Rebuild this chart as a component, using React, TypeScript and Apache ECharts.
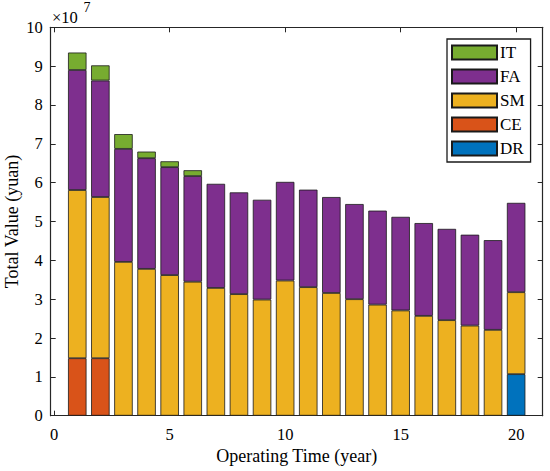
import React, { useEffect, useRef } from "react";
import * as echarts from "echarts";

const years = [1, 2, 3, 4, 5, 6, 7, 8, 9, 10, 11, 12, 13, 14, 15, 16, 17, 18, 19, 20];
const seriesNames = ["DR", "CE", "SM", "FA", "IT"];
const legendOrder = ["IT", "FA", "SM", "CE", "DR"];
const colors = ["#0072BD", "#D95319", "#EDB120", "#7E2F8E", "#77AC30"];
const xTicks = [0, 5, 10, 15, 20];

// values in units of 1e7 yuan (segment heights); 0 = segment absent
const DR = [0, 0, 0, 0, 0, 0, 0, 0, 0, 0, 0, 0, 0, 0, 0, 0, 0, 0, 0, 1.07];
const CE = [1.48, 1.48, 0, 0, 0, 0, 0, 0, 0, 0, 0, 0, 0, 0, 0, 0, 0, 0, 0, 0];
const SM = [4.33, 4.15, 3.96, 3.78, 3.62, 3.45, 3.29, 3.13, 2.99, 3.48, 3.31, 3.16, 3.0, 2.86, 2.71, 2.57, 2.46, 2.32, 2.21, 2.11];
const FA = [3.09, 3.0, 2.91, 2.85, 2.78, 2.72, 2.68, 2.62, 2.57, 2.54, 2.51, 2.47, 2.45, 2.42, 2.41, 2.39, 2.35, 2.34, 2.31, 2.3];
const IT = [0.45, 0.39, 0.38, 0.17, 0.15, 0.15, 0, 0, 0, 0, 0, 0, 0, 0, 0, 0, 0, 0, 0, 0];

const seriesValues = [DR, CE, SM, FA, IT];

const FONT = '"Liberation Serif", "Times New Roman", serif';
const AXIS_COLOR = "#262626";

// frame geometry (value axis -0.15 .. 21.15)
const X_MIN = -0.15;
const X_MAX = 21.15;
const FRAME_LEFT = 50.7;
const FRAME_RIGHT_PX = 542.7;
const TOP = 27.3;
const BOTTOM = 55.3;

export default function App() {
  const ref = useRef<HTMLDivElement>(null);

  useEffect(() => {
    const chart = echarts.init(ref.current!, null, { renderer: "svg" });

    const pxPerUnit = (FRAME_RIGHT_PX - FRAME_LEFT) / (X_MAX - X_MIN);
    const toPx = (v: number) => FRAME_LEFT + (v - X_MIN) * pxPerUnit;
    const barGridLeft = toPx(years[0] - 0.5);
    const barGridRight = toPx(years[years.length - 1] + 0.5);

    const series = seriesNames.map((name, i) => ({
      name,
      type: "bar",
      stack: "total",
      xAxisIndex: 0,
      yAxisIndex: 0,
      barWidth: "80%",
      itemStyle: { color: colors[i], borderColor: "#1a1a1a", borderWidth: 0.8 },
      emphasis: { disabled: true },
      data: seriesValues[i].map((v) =>
        v > 0 ? { value: v } : { value: 0, itemStyle: { borderWidth: 0, opacity: 0 } }
      ),
    }));

    const xCommon = {
      type: "value",
      gridIndex: 1,
      min: X_MIN,
      max: X_MAX,
      splitLine: { show: false },
      axisLine: { show: true, onZero: false, lineStyle: { color: AXIS_COLOR, width: 1.2 } },
      axisTick: { show: true, inside: true, length: 5, customValues: xTicks, lineStyle: { color: AXIS_COLOR, width: 1 } },
    };
    const yCommon = {
      type: "value",
      gridIndex: 1,
      min: 0,
      max: 10,
      interval: 1,
      splitLine: { show: false },
      axisLine: { show: true, onZero: false, lineStyle: { color: AXIS_COLOR, width: 1.2 } },
      axisTick: { show: true, inside: true, length: 5, lineStyle: { color: AXIS_COLOR, width: 1 } },
    };

    chart.setOption({
      animation: false,
      textStyle: { fontFamily: FONT },
      grid: [
        { left: barGridLeft, right: 550 - barGridRight, top: TOP, bottom: BOTTOM, containLabel: false, outerBoundsMode: "none" },
        { left: FRAME_LEFT, right: 550 - FRAME_RIGHT_PX, top: TOP, bottom: BOTTOM, containLabel: false, outerBoundsMode: "none" },
      ],
      legend: {
        data: legendOrder,
        orient: "vertical",
        left: 447,
        top: 39,
        padding: [5, 6, 5, 4],
        itemWidth: 45,
        itemHeight: 14,
        itemGap: 7,
        icon: "rect",
        borderColor: "#1a1a1a",
        borderWidth: 1.3,
        backgroundColor: "#fff",
        selectedMode: false,
        textStyle: { fontFamily: FONT, fontSize: 17, color: "#000", padding: [0, 0, 0, -2] },
      },
      xAxis: [
        {
          type: "category",
          gridIndex: 0,
          data: years,
          boundaryGap: true,
          show: false,
        },
        {
          ...xCommon,
          position: "bottom",
          name: "Operating Time (year)",
          nameLocation: "middle",
          nameGap: 31,
          nameMoveOverlap: false,
          nameTextStyle: { fontFamily: FONT, fontSize: 18, color: "#000" },
          axisLabel: { show: true, customValues: xTicks, fontFamily: FONT, fontSize: 16.5, color: "#000", margin: 10 },
        },
        {
          ...xCommon,
          position: "top",
          axisLabel: { show: false },
        },
      ],
      yAxis: [
        {
          type: "value",
          gridIndex: 0,
          min: 0,
          max: 10,
          show: false,
        },
        {
          ...yCommon,
          position: "left",
          name: "Total Value (yuan)",
          nameLocation: "middle",
          nameGap: 30,
          nameMoveOverlap: false,
          nameTextStyle: { fontFamily: FONT, fontSize: 18, color: "#000" },
          axisLabel: { show: true, fontFamily: FONT, fontSize: 16.5, color: "#000", margin: 8 },
        },
        {
          ...yCommon,
          position: "right",
          axisLabel: { show: false },
        },
      ],
      graphic: [
        {
          type: "text",
          left: 52,
          top: 9,
          style: { text: "×10", fontFamily: FONT, fontSize: 16.5, fill: "#000" },
        },
        {
          type: "text",
          left: 83.5,
          top: 0,
          style: { text: "7", fontFamily: FONT, fontSize: 14, fill: "#000" },
        },
      ],
      series,
    });

    return () => chart.dispose();
  }, []);

  return <div ref={ref} style={{ position: "absolute", left: 0, top: 0, width: 550, height: 471 }} />;
}
